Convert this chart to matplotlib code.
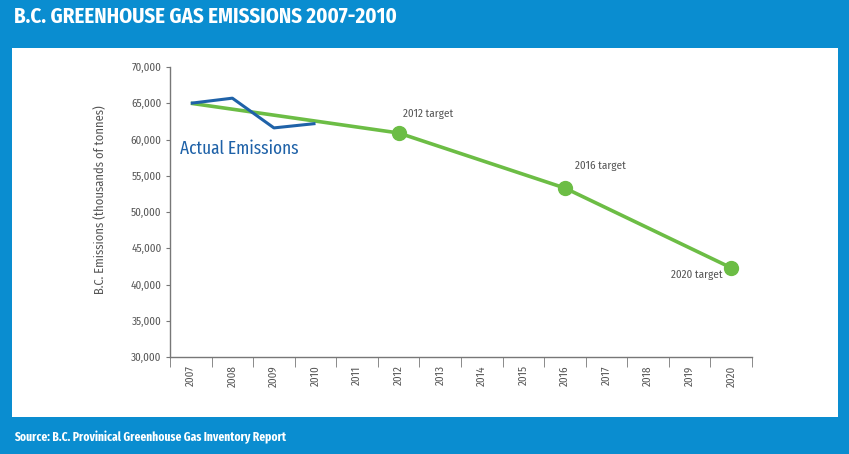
import matplotlib.pyplot as plt
from matplotlib.patches import Rectangle
import numpy as np

# Datos de la gráfica
years = ['2007', '2008', '2009', '2010', '2011', '2012', '2013',
         '2014', '2015', '2016', '2017', '2018', '2019', '2020']
actual_years = ['2007', '2008', '2009', '2010']
actual_values = [65000, 65700, 61600, 62200]
target_years = ['2007', '2012', '2016', '2020']
target_values = [65000, 60900, 53300, 42300]
target_labels = ['', '2012 target', '2016 target', '2020 target']

BLUE_BG = '#0a8dd0'
LINE_BLUE = '#1f62a8'
GREEN = '#6cbd45'
GREY = '#555555'
XCOND = ['Fira Sans Extra Condensed', 'DejaVu Sans']

plt.rcParams['font.family'] = ['Fira Sans Condensed', 'DejaVu Sans']

fig = plt.figure(figsize=(8.49, 4.54), dpi=100)
fig.patch.set_facecolor(BLUE_BG)

# Panel blanco
fig.patches.append(Rectangle((12 / 849, 1 - 417 / 454), 826 / 849, 369 / 454,
                             transform=fig.transFigure, facecolor='white',
                             edgecolor='none', zorder=-5))

fig.text(14 / 849, 1 - 17 / 454, 'B.C. GREENHOUSE GAS EMISSIONS 2007-2010',
         color='white', fontsize=15, fontweight='bold', va='center', ha='left')
fig.text(14 / 849, 1 - 437 / 454, 'Source: B.C. Provinical Greenhouse Gas Inventory Report',
         color='white', fontsize=9, fontweight='bold', va='center', ha='left',
         family=XCOND)

ax = fig.add_axes([170 / 849, 1 - 357 / 454, 582 / 849, 290 / 454])
ax.set_facecolor('none')

idx = {y: i for i, y in enumerate(years)}
ax.plot([idx[y] for y in target_years], target_values, color=GREEN, lw=2.6,
        solid_capstyle='butt', zorder=2)
ax.plot([idx[y] for y in target_years[1:]], target_values[1:], 'o', color=GREEN,
        ms=10, zorder=3)
ax.plot([idx[y] for y in actual_years], actual_values, color=LINE_BLUE, lw=2.2,
        solid_capstyle='butt', zorder=4)

# Etiquetas de los objetivos
offsets = [None, (3, 14), (7, 16), (-6, -5)]
for y, v, lab, off in zip(target_years, target_values, target_labels, offsets):
    if not lab:
        continue
    ha = 'right' if off[0] < 0 else 'left'
    ax.annotate(lab, (idx[y], v), xytext=off, textcoords='offset points',
                ha=ha, va='center', fontsize=8, color=GREY)

ax.text(-0.25, 58700, 'Actual Emissions', color=LINE_BLUE, fontsize=13.5,
        va='center', ha='left', family=XCOND)

ax.set_xlim(-0.5, len(years) - 0.5)
ax.set_ylim(30000, 70000)
ax.set_yticks(np.arange(30000, 70001, 5000))
ax.set_yticklabels(['{:,}'.format(v) for v in range(30000, 70001, 5000)])
ax.set_xticks(np.arange(len(years)))
ax.set_xticklabels(years, rotation=90)
ax.set_xticks(np.arange(-0.5, len(years)), minor=True)
ax.tick_params(axis='x', which='major', length=0, pad=6, labelsize=8, colors=GREY)
ax.tick_params(axis='x', which='minor', length=7, direction='out', color='#777777')
ax.tick_params(axis='y', length=3, direction='out', color='#777777', labelsize=8,
               labelcolor=GREY, pad=3)

for s in ['top', 'right']:
    ax.spines[s].set_visible(False)
for s in ['left', 'bottom']:
    ax.spines[s].set_color('#777777')
    ax.spines[s].set_linewidth(1)

ax.set_ylabel('B.C. Emissions (thousands of tonnes)', fontsize=9, color=GREY)
ax.yaxis.set_label_coords(-63 / 582, 157 / 290)

fig.savefig('out.png', dpi=100, facecolor=fig.get_facecolor())
